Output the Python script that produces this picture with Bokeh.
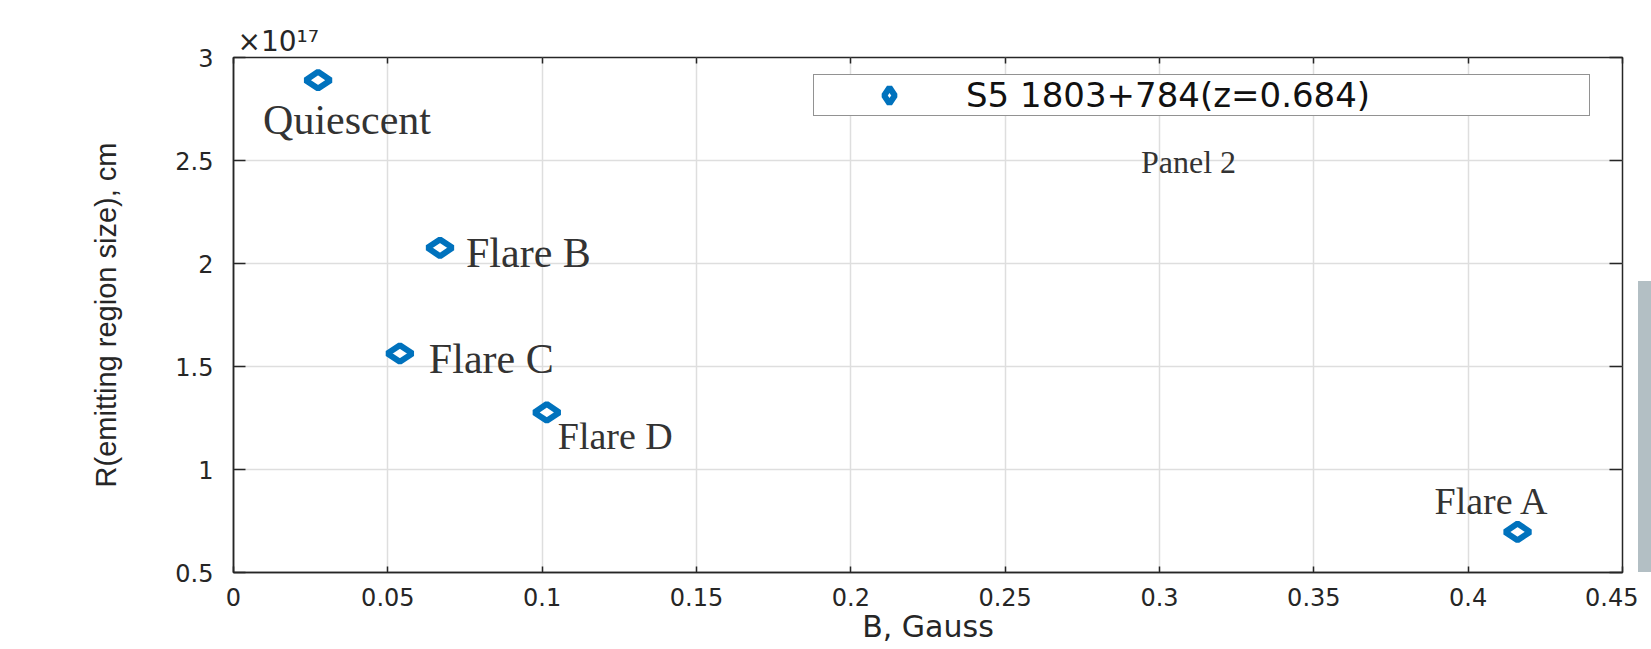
import math
from bokeh.plotting import figure
from bokeh.layouts import row
from bokeh.models import (ColumnDataSource, LinearAxis, FixedTicker, Legend, LegendItem,
                          Label, Range1d, Div)
from bokeh.core.properties import value, field
from bokeh.embed import file_html
from bokeh.resources import INLINE

# ---------------- data ----------------
source_name = "S5 1803+784(z=0.684)"
state_names = ["Quiescent", "Flare A", "Flare B", "Flare C", "Flare D"]
b_gauss = [0.0274, 0.416, 0.0669, 0.0539, 0.1015]          # B, Gauss
r_size_1e17_cm = [2.890, 0.697, 2.076, 1.563, 1.277]        # R in units of 1e17 cm

x_ticks = [0, 0.05, 0.1, 0.15, 0.2, 0.25, 0.3, 0.35, 0.4, 0.45]
x_tick_labels = ["0", "0.05", "0.1", "0.15", "0.2", "0.25", "0.3", "0.35", "0.4", "0.45"]
y_ticks = [0.5, 1, 1.5, 2, 2.5, 3]
y_tick_labels = ["0.5", "1", "1.5", "2", "2.5", "3"]

x_title = "B, Gauss"
y_title = "R(emitting region size), cm"
y_scale_note = "×10¹⁷"
panel_note = "Panel 2"

# ---------------- label layout (screen px from marker centre) ----------------
label_dx = [-55, -83, 26, 29, 11]
label_dy = [40, -31, 5, 5, 24]
label_px = [42, 38, 42, 42, 38]

AX = "#262626"
BLUE = "#0072BD"
SANS = "DejaVu Sans"

p = figure(width=1638, height=649,
           x_range=Range1d(0, 0.45), y_range=Range1d(0.5, 3),
           output_backend="svg", toolbar_location=None,
           min_border_left=233, min_border_right=16,
           min_border_top=57, min_border_bottom=77)
p.background_fill_color = "white"
p.border_fill_color = "white"
p.outline_line_color = AX
p.outline_line_width = 1.5

# exponent note above the y axis (as the plot title, drawn outside the frame)
p.title.text = y_scale_note
p.title.align = "left"
p.title.offset = 4
p.title.standoff = 0
p.title.text_font = SANS
p.title.text_font_size = "28px"
p.title.text_font_style = "normal"
p.title.text_color = AX

# x axis
xa = p.xaxis[0]
xa.ticker = FixedTicker(ticks=x_ticks)
xa.major_label_overrides = {t: l for t, l in zip(x_ticks, x_tick_labels)}
xa.major_tick_in = 6
xa.major_tick_out = 0
xa.minor_tick_line_color = None
xa.axis_line_color = AX
xa.axis_line_width = 1.5
xa.major_tick_line_color = AX
xa.major_tick_line_width = 1.5
xa.major_label_standoff = 15
xa.major_label_text_font = SANS
xa.major_label_text_font_size = "24px"
xa.major_label_text_color = AX
xa.axis_label = x_title
xa.axis_label_text_font = SANS
xa.axis_label_text_font_size = "30px"
xa.axis_label_text_font_style = "normal"
xa.axis_label_text_color = AX
xa.axis_label_standoff = 0

# y axis
ya = p.yaxis[0]
ya.ticker = FixedTicker(ticks=y_ticks)
ya.major_label_overrides = {t: l for t, l in zip(y_ticks, y_tick_labels)}
ya.major_tick_in = 12
ya.major_tick_out = 0
ya.minor_tick_line_color = None
ya.axis_line_color = AX
ya.axis_line_width = 1.5
ya.major_tick_line_color = AX
ya.major_tick_line_width = 1.5
ya.major_label_standoff = 20
ya.major_label_text_font = SANS
ya.major_label_text_font_size = "24px"
ya.major_label_text_color = AX
ya.axis_label = y_title
ya.axis_label_text_font = "Liberation Sans"
ya.axis_label_text_font_size = "29px"
ya.axis_label_text_font_style = "normal"
ya.axis_label_text_color = AX
ya.axis_label_standoff = 50

# tick marks on top and right (box style), labels not painted
top = LinearAxis(ticker=FixedTicker(ticks=x_ticks), major_tick_in=6, major_tick_out=0,
                 major_label_text_font_size="0px", major_label_text_color=None,
                 major_label_standoff=0,
                 axis_line_color=None, major_tick_line_color=AX, major_tick_line_width=1.5,
                 minor_tick_line_color=None)
p.add_layout(top, "above")
right = LinearAxis(ticker=FixedTicker(ticks=y_ticks), major_tick_in=13, major_tick_out=0,
                   major_label_text_font_size="0px", major_label_text_color=None,
                   major_label_standoff=0,
                   axis_line_color=None, major_tick_line_color=AX, major_tick_line_width=1.5,
                   minor_tick_line_color=None)
p.add_layout(right, "right")

# grid
p.xgrid.ticker = FixedTicker(ticks=x_ticks)
p.ygrid.ticker = FixedTicker(ticks=y_ticks)
for g in (p.xgrid, p.ygrid):
    g.grid_line_color = "#dedede"
    g.grid_line_width = 1.5

src = ColumnDataSource(dict(b=b_gauss, r=r_size_1e17_cm, name=state_names,
                            dx=label_dx, dy=label_dy,
                            fs=[f"{s}px" for s in label_px]))

pts = p.scatter("b", "r", source=src, marker="diamond", size=25, angle=math.pi / 2,
                line_color=BLUE, line_width=6, fill_color="white")

p.text(x="b", y="r", text="name", x_offset="dx", y_offset="dy",
       text_font_size=field("fs"), text_font=value("Liberation Serif"),
       text_color="#333333", text_align="left", text_baseline="alphabetic", source=src)

legend = Legend(items=[LegendItem(label=value(source_name), renderers=[pts])],
                location=(580, 456), orientation="vertical",
                padding=0, margin=0, spacing=0,
                glyph_width=150, glyph_height=40, label_standoff=2,
                label_width=623, label_height=40,
                label_text_font=SANS, label_text_font_size="34px",
                label_text_color="#111111",
                border_line_color=AX, border_line_width=1.5,
                background_fill_color="white", background_fill_alpha=1.0)
p.add_layout(legend)

p.add_layout(Label(x=0.294, y=2.4335, y_offset=12, text=panel_note,
                   text_font="Liberation Serif", text_font_size="32px", text_color="#333333",
                   text_baseline="alphabetic", text_align="left"))

# neighbouring grey panel strip at the right edge of the picture
bar = Div(text="", width=13, height=291, margin=(281, 0, 0, 0),
          styles={"background-color": "#b3bfc4"})

layout = row(p, bar, spacing=0)
open("out.html", "w").write(file_html(layout, INLINE, title="B vs R"))
